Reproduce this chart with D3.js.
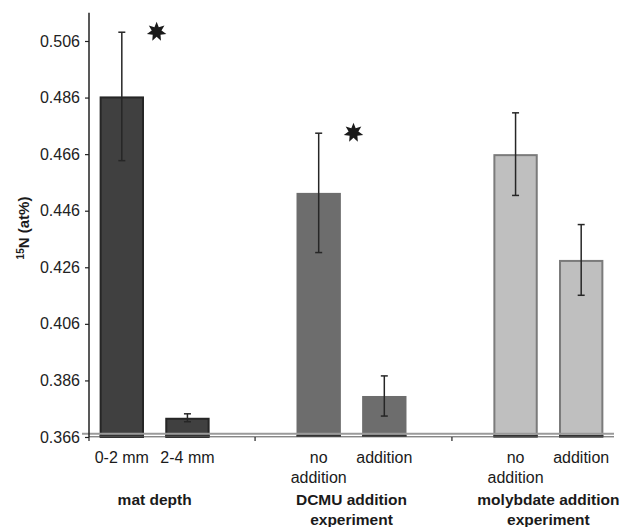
<!DOCTYPE html>
<html>
<head>
<meta charset="utf-8">
<script src="https://cdn.jsdelivr.net/npm/d3@7"></script>
<style>
  html, body { margin: 0; padding: 0; background: #fff; }
  svg { display: block; font-family: "Liberation Sans", Arial, sans-serif; }
</style>
</head>
<body>
<svg id="chart" width="625" height="527"></svg>
<script>
// ---- data ----
const barLabels = [["0-2 mm"], ["2-4 mm"], ["no", "addition"], ["addition"], ["no", "addition"], ["addition"]];
const barSlots = [0, 1, 3, 4, 6, 7];
const barGroup = [0, 0, 1, 1, 2, 2];
const values = [0.4864, 0.3728, 0.4523, 0.3805, 0.4660, 0.4286];
const errors = [0.0227, 0.0014, 0.0211, 0.0071, 0.0146, 0.0125];
const groupLabels = [["mat depth"], ["DCMU addition", "experiment"], ["molybdate addition", "experiment"]];
const significant = [true, true, false];
const yTicks = [0.366, 0.386, 0.406, 0.426, 0.446, 0.466, 0.486, 0.506];
const groupFill = ["#404040", "#6d6d6d", "#bfbfbf"];
const groupStroke = ["#262626", "#6d6d6d", "#7b7b7b"];

// ---- layout ----
const svg = d3.select("#chart");
const x = d3.scaleBand().domain(d3.range(8)).range([89, 614]).paddingInner(0.324).paddingOuter(0.162);
const y = d3.scaleLinear().domain([0.366, 0.516]).range([437, 12.7]);
const bw = x.bandwidth();
const cx = i => x(barSlots[i]) + bw / 2;

// bars
const bars = svg.append("g");
values.forEach((v, i) => {
  const g = barGroup[i];
  const sw = g === 1 ? 0 : 2;
  bars.append("rect")
    .attr("x", x(barSlots[i]) + sw / 2)
    .attr("y", y(v) + sw / 2)
    .attr("width", bw - sw)
    .attr("height", y.range()[0] - y(v) - sw / 2)
    .attr("fill", groupFill[g])
    .attr("stroke", sw ? groupStroke[g] : "none")
    .attr("stroke-width", sw);
  bars.append("rect")
    .attr("x", x(barSlots[i])).attr("y", y.range()[0] - 2)
    .attr("width", bw).attr("height", 2).attr("fill", "#333");
});

// error bars
const eg = svg.append("g").attr("stroke", "#262626").attr("stroke-width", 1.5);
values.forEach((v, i) => {
  const c = cx(i);
  eg.append("line").attr("x1", c).attr("x2", c).attr("y1", y(v + errors[i])).attr("y2", y(v - errors[i]));
  [v + errors[i], v - errors[i]].forEach(e => {
    eg.append("line").attr("x1", c - 3.5).attr("x2", c + 3.5).attr("y1", y(e)).attr("y2", y(e));
  });
});

// gray baseline line (over bars)
svg.append("line").attr("x1", 82).attr("x2", 614).attr("y1", 433.8).attr("y2", 433.8)
  .attr("stroke", "#9a9a9a").attr("stroke-width", 2);
// x axis line
svg.append("line").attr("x1", 89).attr("x2", 614).attr("y1", 436.8).attr("y2", 436.8)
  .attr("stroke", "#555").attr("stroke-width", 1);

// y axis
const yAxis = d3.axisLeft(y).tickValues(yTicks).tickFormat(d3.format(".3f")).tickSize(4).tickPadding(5);
const ya = svg.append("g").attr("transform", "translate(89,0)").call(yAxis);
ya.select(".domain").remove();
ya.selectAll("line").attr("stroke", "#222").attr("stroke-width", 1.2);
ya.selectAll("text").attr("font-size", 16).attr("fill", "#222").attr("font-family", "Liberation Sans, Arial, sans-serif");
svg.append("line").attr("x1", 89).attr("x2", 89).attr("y1", y.range()[1]).attr("y2", 437)
  .attr("stroke", "#222").attr("stroke-width", 1.5);

// x group separator ticks
const sepX = [89, (cx(1) + cx(2)) / 2 + 2, (cx(3) + cx(4)) / 2 + 2];
sepX.forEach(sx => {
  svg.append("line").attr("x1", sx).attr("x2", sx).attr("y1", 437).attr("y2", 441)
    .attr("stroke", "#222").attr("stroke-width", 1.2);
});

// bar labels
barLabels.forEach((lines, i) => {
  const t = svg.append("text").attr("text-anchor", "middle").attr("font-size", 16).attr("fill", "#1a1a1a");
  lines.forEach((l, k) => t.append("tspan").attr("x", cx(i)).attr("y", 463 + k * 19.5).text(l));
});

// group labels
groupLabels.forEach((lines, g) => {
  const idx = barGroup.map((b, i) => b === g ? i : -1).filter(i => i >= 0);
  const gx = d3.mean(idx, cx);
  const t = svg.append("text").attr("text-anchor", "middle").attr("font-size", 15.5)
    .attr("font-weight", "bold").attr("fill", "#1a1a1a");
  lines.forEach((l, k) => t.append("tspan").attr("x", gx).attr("y", 505 + k * 19.5).text(l));
});

// significance stars
const star = (r1, r2, n) => {
  const pts = d3.range(n * 2).map(k => {
    const a = Math.PI * k / n;
    const r = k % 2 ? r2 : r1;
    return [r * Math.sin(a), -r * Math.cos(a)];
  });
  return "M" + pts.map(p => p.join(",")).join("L") + "Z";
};
significant.forEach((s, g) => {
  if (!s) return;
  const idx = barGroup.map((b, i) => b === g ? i : -1).filter(i => i >= 0);
  const sx = d3.mean(idx, cx);
  const top = d3.max(idx, i => values[i] + errors[i]);
  svg.append("path").attr("d", star(10, 5, 7))
    .attr("transform", `translate(${sx + 2},${y(top) - 0.5})`)
    .attr("fill", "#1a1a1a");
});

// y title
const yt = svg.append("text").attr("transform", "translate(29,228) rotate(-90)")
  .attr("text-anchor", "middle").attr("font-weight", "bold").attr("font-size", 15).attr("fill", "#1a1a1a");
yt.append("tspan").attr("font-size", 10).attr("dy", -5).text("15");
yt.append("tspan").attr("dy", 5).text("N (at%)");
</script>
</body>
</html>
